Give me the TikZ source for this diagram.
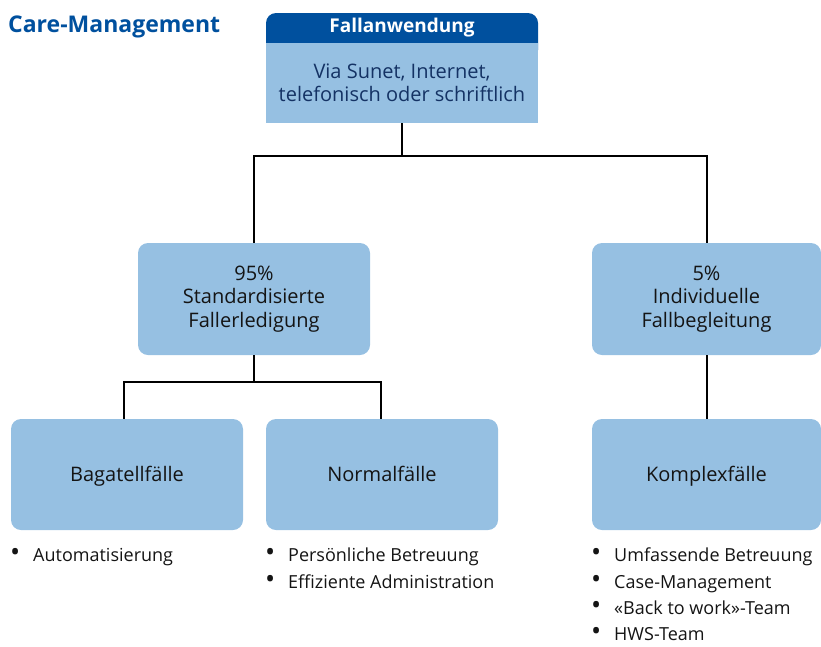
\documentclass[tikz,border=0pt]{standalone}
\usepackage{fontspec}
\setmainfont{Open Sans}
\definecolor{dblue}{RGB}{0,80,158}
\definecolor{lblue}{RGB}{150,192,226}
\definecolor{navy}{RGB}{20,50,100}
\definecolor{txt}{RGB}{20,20,20}
\newcommand{\bul}{\makebox[0pt][r]{\raisebox{-0.5pt}{\scalebox{1.5}{•}}\hspace{13pt}}}
\begin{document}
\begin{tikzpicture}[x=1pt,y=-1pt,
  box/.style={fill=lblue, rounded corners=10pt, inner sep=0pt, align=center,
    font=\fontsize{20}{23.5}\selectfont, text=txt},
  single/.style={text height=17pt, text depth=4pt},
  conn/.style={line width=2pt, black},
  item/.style={anchor=base west, inner sep=0pt,
    font=\fontsize{18}{22}\selectfont, text=txt}]
\useasboundingbox (0,0) rectangle (821,646);
% title
\node[anchor=base west, inner sep=0pt, text=dblue, font=\fontsize{23}{27}\selectfont\bfseries] (title) at (8,32) {Care-Management};
% top box
\fill[dblue, rounded corners=10pt] (266,13) rectangle (538,60);
\node[fill=lblue, minimum width=272pt, minimum height=80pt, inner sep=0pt, align=center,
  text=navy, font=\fontsize{20}{23.5}\selectfont] (top) at (402,83)
  {Via Sunet, Internet,\\telefonisch oder schriftlich};
\node[inner sep=0pt, text=white, font=\fontsize{19}{22}\selectfont\bfseries] (hdr) at (402,28) {Fallanwendung};
% level 2
\node[box, minimum width=232pt, minimum height=112pt] (std) at (254,299) {95\%\\Standardisierte\\Fallerledigung};
\node[box, minimum width=229pt, minimum height=112pt] (ind) at (706.5,299) {5\%\\Individuelle\\Fallbegleitung};
% level 3
\node[box, single, minimum width=232pt, minimum height=111pt] (bag) at (127,474.5) {Bagatellfälle};
\node[box, single, minimum width=232pt, minimum height=111pt] (nor) at (382,474.5) {Normalfälle};
\node[box, single, minimum width=229pt, minimum height=111pt] (kom) at (706.5,474.5) {Komplexfälle};
% connectors
\coordinate (j1) at (402,156);
\coordinate (j2) at (254,382);
\draw[conn] (top.south) -- (j1);
\draw[conn] (j1) -| (std.north);
\draw[conn] (j1) -| (ind.north);
\draw[conn] (std.south) -- (j2);
\draw[conn] (j2) -| ([xshift=-3pt]bag.north);
\draw[conn] (j2) -| ([xshift=-1pt]nor.north);
\draw[conn] (ind.south) -- (kom.north);
% lists
\node[item] (a1) at (33,561) {\bul Automatisierung};
\node[item] (n1) at (288,561) {\bul Persönliche Betreuung};
\node[item] (n2) at (288,588) {\bul Effiziente Administration};
\node[item] (k1) at (614,561) {\bul Umfassende Betreuung};
\node[item] (k2) at (614,588) {\bul Case-Management};
\node[item] (k3) at (614,614) {\bul «Back to work»-Team};
\node[item] (k4) at (614,640) {\bul HWS-Team};
\end{tikzpicture}
\end{document}
